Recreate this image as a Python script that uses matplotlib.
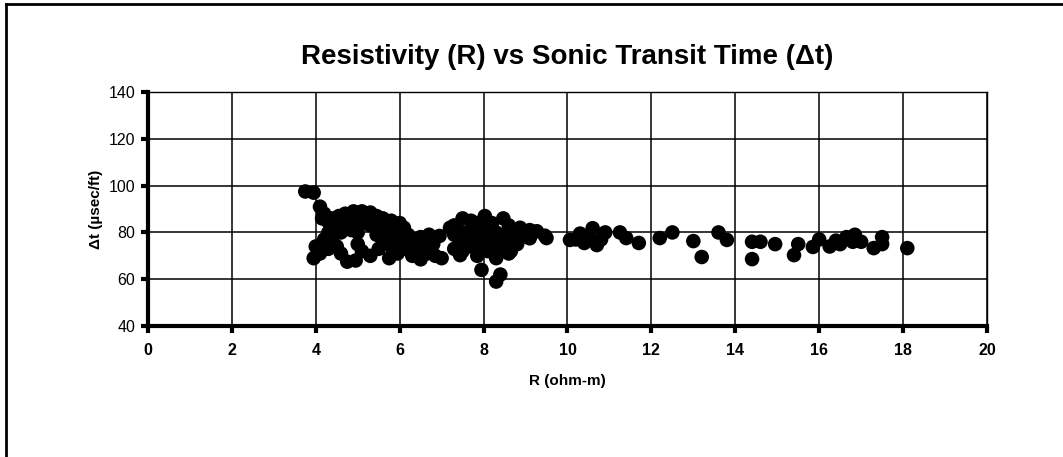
import matplotlib
matplotlib.use("Agg")
import matplotlib.pyplot as plt
from matplotlib.lines import Line2D

# Resistivity R (ohm-m) and sonic transit time dt (usec/ft)
resistivity = [
    3.75, 3.95, 4.1, 4.2, 4.3, 4.15, 4.4, 4.55, 4.7, 4.9, 5.1, 5.3, 5.45, 5.6, 5.8, 6.0, 6.1,
    4.3, 4.5, 4.7, 4.9, 5.1, 5.3, 5.5, 5.7, 5.9, 6.2,
    4.2, 4.4, 4.6, 4.85, 5.0, 5.45, 5.6, 5.8, 6.0, 6.3, 6.5,
    4.0, 4.1, 3.95, 4.3, 4.5, 4.75, 4.95, 5.1, 5.3, 5.5, 5.75, 5.95, 6.1, 6.3, 6.5, 6.4,
    6.65, 6.85, 7.0, 6.7, 6.95, 6.8, 6.55, 6.2, 5.8, 5.0, 4.6,
    7.2, 7.3, 7.5, 7.7, 7.85, 8.03, 8.2, 8.47, 8.6, 8.87, 9.1, 9.27, 9.46, 9.5,
    7.3, 7.5, 7.7, 7.9, 8.1, 8.3, 8.5, 8.7, 8.9, 9.1,
    7.45, 7.6, 7.8, 8.0, 8.2, 8.4, 8.6, 8.8,
    7.3, 7.5, 7.7, 7.9, 8.1, 8.3, 8.5, 8.65,
    7.44, 7.85, 8.3, 8.6, 7.95, 8.4, 8.3,
    10.06, 10.3, 10.6, 10.7, 10.9, 11.25, 11.4, 10.2, 10.5, 10.8, 10.4,
    11.7, 12.2, 12.5, 13.0, 13.2, 13.6, 13.8,
    14.4, 14.4, 14.6, 14.95, 15.5, 15.4, 15.85, 16.0, 16.25, 16.5, 16.65, 16.85,
    17.0, 17.3, 17.5, 17.5, 16.4, 16.8, 18.1,
]
transit_time = [
    97.5, 97, 91, 88, 84.5, 86, 86, 87, 88, 89, 89, 88.5, 87, 86, 85, 84, 82,
    80, 82, 84, 85, 84, 83, 82, 81, 80, 79,
    77, 76, 80, 81, 80, 79, 77, 76, 77, 76, 78,
    74, 71, 69, 73, 74, 67.5, 68, 72, 70, 73, 69, 71, 73, 70, 68.5, 72,
    71, 70, 69, 79, 78.5, 75, 75, 74, 74, 75, 71,
    82, 83, 86, 85, 84, 87, 84, 86, 83, 82, 81, 80.5, 78.6, 77.6,
    79, 80, 81, 80, 81, 80, 79, 80, 78, 77.5,
    77, 75, 77, 76, 77, 75, 76, 75,
    73, 72, 74, 73, 72, 73, 74, 72,
    70.3, 70, 69, 71, 64, 62, 59,
    76.8, 79.5, 81.8, 74.6, 80, 80, 77.6, 77, 78, 77, 75.5,
    75.5, 77.6, 80, 76.3, 69.5, 80, 76.8,
    76, 68.6, 76, 75, 75, 70.3, 73.8, 77, 74, 75, 78, 79,
    76, 73.3, 75, 78, 76.5, 76, 73.3,
]

x_ticks = [0, 2, 4, 6, 8, 10, 12, 14, 16, 18, 20]
y_ticks = [40, 60, 80, 100, 120, 140]

plt.rcParams['font.family'] = ['Liberation Sans', 'DejaVu Sans']

fig = plt.figure(figsize=(10.63, 4.57), dpi=100)
ax = fig.add_axes([0.1392, 0.2866, 0.7893, 0.5120])

ax.scatter(resistivity, transit_time, s=110, color='black', edgecolors='none', zorder=3)

ax.set_xlim(0, 20)
ax.set_ylim(40, 140)
ax.set_xticks(x_ticks)
ax.set_yticks(y_ticks)
ax.grid(True, color='black', linewidth=1.1)
ax.set_axisbelow(True)

for side in ['left', 'bottom']:
    ax.spines[side].set_linewidth(3)
for side in ['top', 'right']:
    ax.spines[side].set_linewidth(1)
    ax.spines[side].set_linestyle((0, (1, 1)))

ax.tick_params(direction='out', length=5, width=3, labelsize=11.5)
ax.tick_params(axis='x', pad=7)
ax.tick_params(axis='y', pad=4)
for lbl in ax.get_xticklabels():
    lbl.set_fontweight('bold')

ax.set_title('Resistivity (R) vs Sonic Transit Time (\u0394t)', fontsize=20,
             fontweight='bold', pad=20)
ax.set_xlabel('R (ohm-m)', fontsize=11, fontweight='bold', labelpad=12)
ax.set_ylabel('\u0394t (\u00b5sec/ft)', fontsize=11, fontweight='bold', labelpad=4)

# outer frame of the scanned chart
fig.add_artist(Line2D([0.006, 0.006], [0, 0.992], color='black', linewidth=2,
                      transform=fig.transFigure))
fig.add_artist(Line2D([0.006, 1], [0.992, 0.992], color='black', linewidth=2,
                      transform=fig.transFigure))

fig.savefig('out.png', dpi=100)
